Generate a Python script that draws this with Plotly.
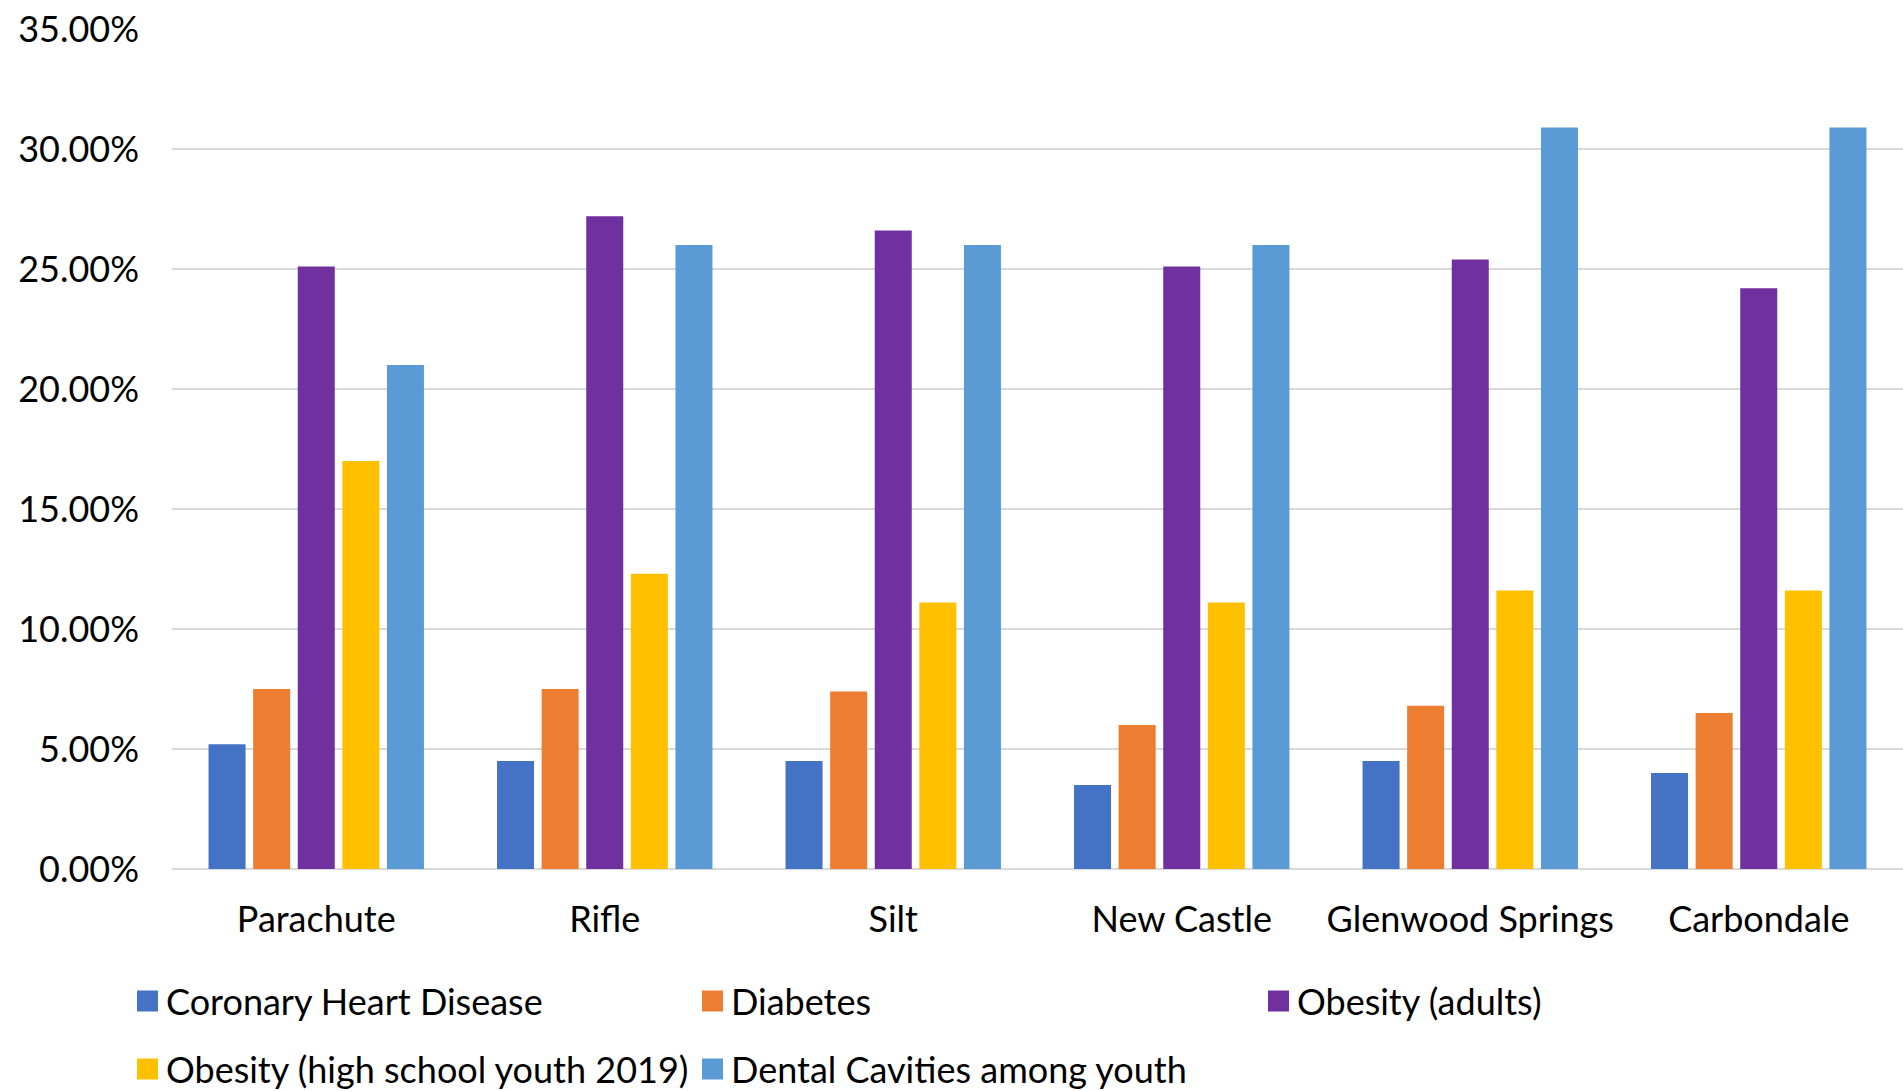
import plotly.graph_objects as go

# Health indicators by town, Garfield County area
towns = ["Parachute", "Rifle", "Silt", "New Castle", "Glenwood Springs", "Carbondale"]
series_names = [
    "Coronary Heart Disease",
    "Diabetes",
    "Obesity (adults)",
    "Obesity (high school youth 2019)",
    "Dental Cavities among youth",
]
coronary_heart_disease = [0.052, 0.045, 0.045, 0.035, 0.045, 0.040]
diabetes = [0.075, 0.075, 0.074, 0.060, 0.068, 0.065]
obesity_adults = [0.251, 0.272, 0.266, 0.251, 0.254, 0.242]
obesity_youth = [0.170, 0.123, 0.111, 0.111, 0.116, 0.116]
dental_cavities = [0.210, 0.260, 0.260, 0.260, 0.309, 0.309]
y_ticks = [0, 0.05, 0.10, 0.15, 0.20, 0.25, 0.30, 0.35]

series_values = [coronary_heart_disease, diabetes, obesity_adults, obesity_youth, dental_cavities]
colors = ["#4472C4", "#ED7D31", "#7030A0", "#FFC000", "#5B9BD5"]

FONT = "Lato"
W, H = 1903, 1091
ML, MR, MT, MB = 172, 0, 29, 222
PW, PH = W - ML - MR, H - MT - MB

fig = go.Figure()
for name, vals, col in zip(series_names, series_values, colors):
    fig.add_trace(go.Bar(
        x=towns, y=vals, name=name,
        marker=dict(color=col, line=dict(width=0)),
        showlegend=False,
    ))

# Legend laid out as a grid: three columns, two rows
legend_cols_px = [137, 702, 1268]
legend_rows_px = [1001, 1069]
shapes, annotations = [], []
for i, (name, col) in enumerate(zip(series_names, colors)):
    cx = legend_cols_px[i % 3]
    cy = legend_rows_px[i // 3]
    x0 = (cx - ML) / PW
    x1 = (cx + 21 - ML) / PW
    y0 = (MT + PH - (cy + 10.5)) / PH
    y1 = (MT + PH - (cy - 10.5)) / PH
    shapes.append(dict(type="rect", xref="paper", yref="paper",
                       x0=x0, x1=x1, y0=y0, y1=y1,
                       fillcolor=col, line=dict(width=0)))
    annotations.append(dict(
        xref="paper", yref="paper", x=(cx + 27 - ML) / PW,
        y=(MT + PH - cy) / PH, xanchor="left", yanchor="middle",
        text=name, showarrow=False,
        font=dict(family=FONT, size=36, color="#000000"),
    ))

fig.update_layout(
    width=W, height=H,
    margin=dict(l=ML, r=MR, t=MT, b=MB),
    paper_bgcolor="white", plot_bgcolor="white",
    barmode="group", bargap=0.227, bargroupgap=0.17,
    font=dict(family=FONT, size=36, color="#000000"),
    shapes=shapes, annotations=annotations,
    xaxis=dict(
        showgrid=False, showline=False, ticks="",
        tickfont=dict(family=FONT, size=36, color="#000000"),
        ticklabelstandoff=26,
    ),
    yaxis=dict(
        range=[0, 0.35], tickvals=y_ticks, tickformat=".2%",
        showgrid=True, gridcolor="#D9D9D9", gridwidth=2,
        zeroline=True, zerolinecolor="#D9D9D9", zerolinewidth=2,
        showline=False, ticks="",
        tickfont=dict(family=FONT, size=36, color="#000000"),
        ticklabelstandoff=32,
    ),
)

fig.write_html("out.html")
